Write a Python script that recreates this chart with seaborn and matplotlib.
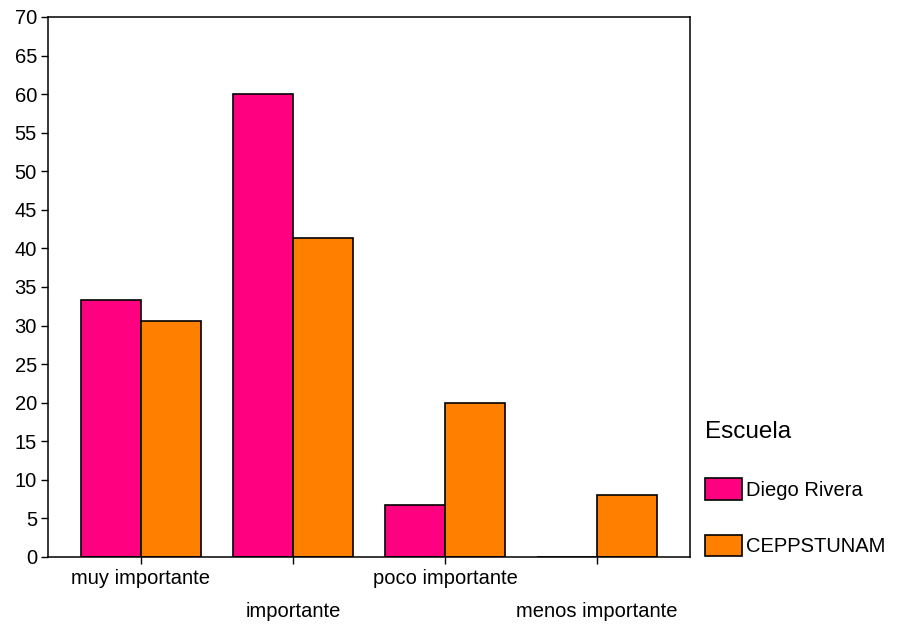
import matplotlib
matplotlib.use("Agg")
import matplotlib.pyplot as plt
import seaborn as sns
import pandas as pd

# ----------------------- Data -----------------------
categorias = ["muy importante", "importante", "poco importante", "menos importante"]
escuelas = ["Diego Rivera", "CEPPSTUNAM"]
diego_rivera = [33.3, 60.0, 6.7, 0.0]
ceppstunam = [30.6, 41.3, 20.0, 8.0]
colores = ["#ff0080", "#ff8000"]

df = pd.DataFrame({
    "categoria": categorias * 2,
    "Escuela": [escuelas[0]] * 4 + [escuelas[1]] * 4,
    "porcentaje": diego_rivera + ceppstunam,
})

# ----------------------- Plot -----------------------
sns.set_style("white")
plt.rcParams["font.family"] = ["Liberation Sans", "DejaVu Sans"]
plt.rcParams["text.color"] = "black"

fig = plt.figure(figsize=(8.97, 6.24), dpi=100)
ax = fig.add_axes([48 / 897, 1 - 557 / 624, (690 - 48) / 897, (557 - 17) / 624])

sns.barplot(data=df, x="categoria", y="porcentaje", hue="Escuela",
            palette=colores, width=0.79, gap=0, edgecolor="black",
            linewidth=1.2, saturation=1, ax=ax)

ax.set_ylim(0, 70)
ax.set_xlim(-0.61, 3.61)
ax.set_yticks(range(0, 71, 5))
ax.set_xlabel("")
ax.set_ylabel("")

for s in ax.spines.values():
    s.set_visible(True)
    s.set_color("black")
    s.set_linewidth(1.1)

ax.tick_params(axis="both", which="major", direction="out", length=5,
               width=1, colors="black", labelsize=14.5, left=True, bottom=True)
ax.tick_params(axis="y", pad=3)
ax.tick_params(axis="x", pad=4)

# staggered category labels
for i, lbl in enumerate(ax.get_xticklabels()):
    if i % 2 == 1:
        lbl.set_y(-0.061)

leg = ax.legend(title="Escuela", loc="upper left", bbox_to_anchor=(695 / 897, 1 - 411 / 624),
                bbox_transform=fig.transFigure, frameon=False, fontsize=14.5,
                title_fontsize=17.5, handlelength=1.85, handleheight=1.25,
                handletextpad=0.2, labelspacing=1.75, borderaxespad=0,
                borderpad=0.5)
leg._legend_box.align = "left"
for t in leg.get_texts():
    t.set_color("black")
leg.get_title().set_color("black")

fig.savefig("out.png", dpi=100)
